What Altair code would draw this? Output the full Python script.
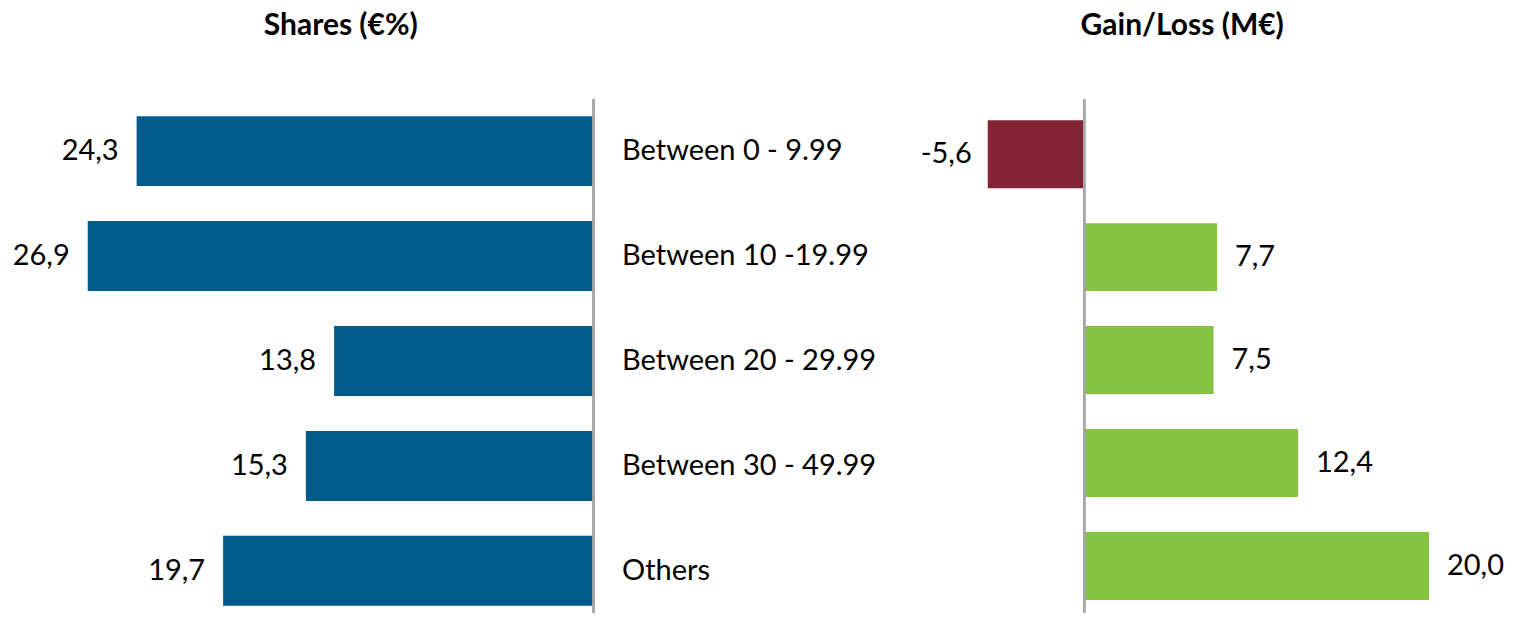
import altair as alt
import pandas as pd

categories = ["Between 0 - 9.99", "Between 10 -19.99", "Between 20 - 29.99", "Between 30 - 49.99", "Others"]
shares = [24.3, 26.9, 13.8, 15.3, 19.7]
gains = [-5.6, 7.7, 7.5, 12.4, 20.0]


def fmt(v):
    return f"{v:.1f}".replace(".", ",")


df = pd.DataFrame({
    "cat": categories,
    "share": shares,
    "gain": gains,
    "share_lbl": [fmt(v) for v in shares],
    "gain_lbl": [fmt(v) for v in gains],
    "sign": ["neg" if g < 0 else "pos" for g in gains],
})

FONT = "Lato"
BLUE = "#005A8C"
RED = "#822436"
GREEN = "#84C441"
GREY = "#A6A6A6"
FS = 29

title_common = dict(fontSize=30, font=FONT, fontWeight="bold", color="black",
                    anchor="middle", frame="group", offset=57)

# ---------- left panel ----------
yL = alt.Y("cat:N", sort=categories, title=None,
           scale=alt.Scale(paddingInner=0.333, paddingOuter=0.114, align=0.71),
           axis=alt.Axis(orient="right", domain=False, ticks=False, labelPadding=28,
                         labelAlign="left", labelFontSize=FS, labelFont=FONT,
                         labelColor="black", labelLimit=400, grid=False))
xL = alt.X("share:Q", scale=alt.Scale(domain=[0, 31.14], reverse=True, nice=False), axis=None)

baseL = alt.Chart(df)
barsL = baseL.mark_bar(color=BLUE).encode(x=xL, y=yL)
textL = baseL.mark_text(align="right", baseline="middle", dx=-18, fontSize=FS,
                        font=FONT, color="black").encode(x=xL, y=yL, text="share_lbl:N")
ruleL = baseL.mark_rule(color=GREY, strokeWidth=2).encode(x=alt.datum(0))

left = alt.layer(barsL, textL, ruleL).properties(
    width=586, height=514,
    title=alt.TitleParams("Shares (€%)", dx=40, **title_common))

# ---------- right panel ----------
yR = alt.Y("cat:N", sort=categories, axis=None,
           scale=alt.Scale(paddingInner=0.34, paddingOuter=0.165, align=0.62))
xR = alt.X("gain:Q", scale=alt.Scale(domain=[-7.536, 24.35], nice=False), axis=None)

baseR = alt.Chart(df)
barsR = baseR.mark_bar().encode(
    x=xR, y=yR,
    color=alt.Color("sign:N", scale=alt.Scale(domain=["neg", "pos"], range=[RED, GREEN]), legend=None))
textPos = baseR.transform_filter(alt.datum.gain >= 0).mark_text(
    align="left", baseline="middle", dx=18, fontSize=FS, font=FONT, color="black"
).encode(x=xR, y=yR, text="gain_lbl:N")
textNeg = baseR.transform_filter(alt.datum.gain < 0).mark_text(
    align="right", baseline="middle", dx=-16, fontSize=FS, font=FONT, color="black"
).encode(x=xR, y=yR, text="gain_lbl:N")
ruleR = baseR.mark_rule(color=GREY, strokeWidth=2).encode(x=alt.datum(0))

right = alt.layer(barsR, textPos, textNeg, ruleR).properties(
    width=550, height=514,
    title=alt.TitleParams("Gain/Loss (M€)", dx=-47, **title_common))

chart = alt.hconcat(left, right, spacing=361, bounds="flush").properties(
    padding={"left": 0, "top": 3, "right": 0, "bottom": 0}
).configure(font=FONT).configure_view(strokeWidth=0, stroke="transparent")

chart.save("out.html", embed_options={"renderer": "svg", "actions": False})
